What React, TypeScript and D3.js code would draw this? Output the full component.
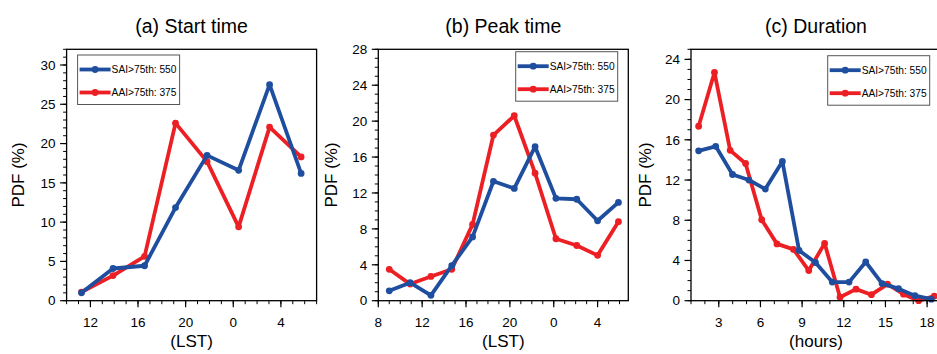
import React from "react";
import * as d3 from "d3";

// ---- data ----
const startHours = [11.25, 13.9, 16.55, 19.15, 21.8, 24.45, 27.05, 29.7];
const startSAI = [1.0, 4.1, 4.45, 11.85, 18.5, 16.6, 27.5, 16.2];
const startAAI = [1.1, 3.2, 5.65, 22.6, 17.7, 9.4, 22.1, 18.3];

const peakHours = [9.0, 10.9, 12.8, 14.7, 16.6, 18.5, 20.4, 22.3, 24.2, 26.1, 28.0, 29.9];
const peakSAI = [1.1, 2.0, 0.6, 3.9, 7.1, 13.3, 12.5, 17.15, 11.4, 11.3, 8.9, 10.95];
const peakAAI = [3.5, 1.85, 2.7, 3.5, 8.5, 18.45, 20.6, 14.2, 6.9, 6.15, 5.05, 8.8];

const durHoursSAI = [1.55, 2.78, 3.99, 5.17, 6.35, 7.58, 8.78, 9.96, 11.17, 12.38, 13.58, 14.76, 15.94, 17.12, 18.3];
const durSAI = [14.9, 15.35, 12.55, 12.0, 11.1, 13.85, 5.0, 3.8, 1.85, 1.85, 3.85, 1.7, 1.2, 0.5, 0.15];
const durHoursAAI = [1.55, 2.69, 3.82, 4.93, 6.09, 7.19, 8.38, 9.48, 10.62, 11.73, 12.88, 13.99, 15.15, 16.3, 17.39, 18.52];
const durAAI = [17.35, 22.7, 14.95, 13.65, 8.05, 5.65, 5.1, 3.0, 5.7, 0.35, 1.15, 0.6, 1.65, 0.65, 0.0, 0.45];

const legendSAI = "SAI>75th: 550";
const legendAAI = "AAI>75th: 375";

const FONT = "'Liberation Sans', Arial, Helvetica, sans-serif";
const BLUE = "#1f4e9e";
const RED = "#ec2024";

const TOP = 49.3;
const H = 251.4;
const W = 250;

type Series = { xs: number[]; ys: number[]; color: string; label: string };

type PanelProps = {
  left: number;
  title: string;
  xLabel: string;
  xDomain: [number, number];
  xTicks: number[];
  xFormat: (d: number) => string;
  yMax: number;
  yTicks: number[];
  yLabelOff: number;
  legendX: number; // relative to frame left
  legendY: number; // relative to frame top
  series: Series[];
};

const Panel = (p: PanelProps) => {
  const x = d3.scaleLinear().domain(p.xDomain).range([p.left, p.left + W]);
  const y = d3.scaleLinear().domain([0, p.yMax]).range([TOP + H, TOP]);
  const bottom = TOP + H;
  const xMinor = d3.range(Math.ceil(p.xDomain[0]), Math.floor(p.xDomain[1]) + 1);
  const yMinor = d3.range(0, p.yMax + 1);
  const line = d3.line<[number, number]>().x((d) => x(d[0])).y((d) => y(d[1]));

  const lx = p.left + p.legendX;
  const ly = TOP + p.legendY;

  return (
    <g>
      <text x={p.left + W / 2} y={33} textAnchor="middle" fontSize={19.5} fontFamily={FONT}>
        {p.title}
      </text>

      {/* minor ticks */}
      {xMinor.map((t) => (
        <line key={"xm" + t} x1={x(t)} x2={x(t)} y1={bottom} y2={bottom + 3.5} stroke="#000" strokeWidth={1} />
      ))}
      {yMinor.map((t) => (
        <line key={"ym" + t} x1={p.left - 3.5} x2={p.left} y1={y(t)} y2={y(t)} stroke="#000" strokeWidth={1} />
      ))}
      {/* major ticks */}
      {p.xTicks.map((t) => (
        <g key={"xt" + t}>
          <line x1={x(t)} x2={x(t)} y1={bottom} y2={bottom + 6.5} stroke="#000" strokeWidth={1.2} />
          <text x={x(t)} y={bottom + 26} textAnchor="middle" fontSize={13.5} fontFamily={FONT}>
            {p.xFormat(t)}
          </text>
        </g>
      ))}
      {p.yTicks.map((t) => (
        <g key={"yt" + t}>
          <line x1={p.left - 6.5} x2={p.left} y1={y(t)} y2={y(t)} stroke="#000" strokeWidth={1.2} />
          <text x={p.left - 11} y={y(t)} dy="0.35em" textAnchor="end" fontSize={13.5} fontFamily={FONT}>
            {t}
          </text>
        </g>
      ))}

      <text
        transform={`translate(${p.left + p.yLabelOff},${TOP + H / 2}) rotate(-90)`}
        textAnchor="middle"
        fontSize={17}
        fontFamily={FONT}
      >
        PDF (%)
      </text>
      <text x={p.left + W / 2} y={347} textAnchor="middle" fontSize={17} fontFamily={FONT}>
        {p.xLabel}
      </text>

      {p.series.map((s) => {
        const pts = s.xs.map((v, i) => [v, s.ys[i]] as [number, number]);
        return (
          <g key={s.label}>
            <path d={line(pts) || ""} fill="none" stroke={s.color} strokeWidth={3.8} strokeLinejoin="round" />
            {pts.map((d, i) => (
              <circle key={i} cx={x(d[0])} cy={y(d[1])} r={3.4} fill={s.color} />
            ))}
          </g>
        );
      })}

      <rect x={p.left} y={TOP} width={W} height={H} fill="none" stroke="#000" strokeWidth={1.3} />

      {/* legend */}
      <rect x={lx} y={ly} width={102} height={49.5} fill="#fff" stroke="#555" strokeWidth={1} />
      {[...p.series].reverse().map((s, i) => {
        const yy = ly + 14.5 + i * 23;
        return (
          <g key={"lg" + s.label}>
            <line x1={lx + 2} x2={lx + 33} y1={yy} y2={yy} stroke={s.color} strokeWidth={3.8} />
            <circle cx={lx + 17.5} cy={yy} r={3.4} fill={s.color} />
            <text x={lx + 34} y={yy} dy="0.35em" fontSize={10.2} fontFamily={FONT}>
              {s.label}
            </text>
          </g>
        );
      })}
    </g>
  );
};

const hourFmt = (d: number) => String(d % 24);

export default function App() {
  return (
    <svg width={937} height={354} style={{ position: "absolute", left: 0, top: 0, background: "#fff" }}>
      <rect width={937} height={354} fill="#fff" />
      <Panel
        left={66.6}
        title="(a) Start time"
        xLabel="(LST)"
        xDomain={[10, 31]}
        xTicks={[12, 16, 20, 24, 28]}
        xFormat={hourFmt}
        yMax={32}
        yTicks={[0, 5, 10, 15, 20, 25, 30]}
        yLabelOff={-42.5}
        legendX={11}
        legendY={5.7}
        series={[
          { xs: startHours, ys: startAAI, color: RED, label: legendAAI },
          { xs: startHours, ys: startSAI, color: BLUE, label: legendSAI },
        ]}
      />
      <Panel
        left={378.3}
        title="(b) Peak time"
        xLabel="(LST)"
        xDomain={[8, 30.8]}
        xTicks={[8, 12, 16, 20, 24, 28]}
        xFormat={hourFmt}
        yMax={28}
        yTicks={[0, 4, 8, 12, 16, 20, 24, 28]}
        yLabelOff={-41}
        legendX={137.4}
        legendY={2.4}
        series={[
          { xs: peakHours, ys: peakAAI, color: RED, label: legendAAI },
          { xs: peakHours, ys: peakSAI, color: BLUE, label: legendSAI },
        ]}
      />
      <Panel
        left={691}
        title="(c) Duration"
        xLabel="(hours)"
        xDomain={[1, 19]}
        xTicks={[3, 6, 9, 12, 15, 18]}
        xFormat={(d) => String(d)}
        yMax={25}
        yTicks={[0, 4, 8, 12, 16, 20, 24]}
        yLabelOff={-40.5}
        legendX={136.7}
        legendY={6.4}
        series={[
          { xs: durHoursAAI, ys: durAAI, color: RED, label: legendAAI },
          { xs: durHoursSAI, ys: durSAI, color: BLUE, label: legendSAI },
        ]}
      />
    </svg>
  );
}
